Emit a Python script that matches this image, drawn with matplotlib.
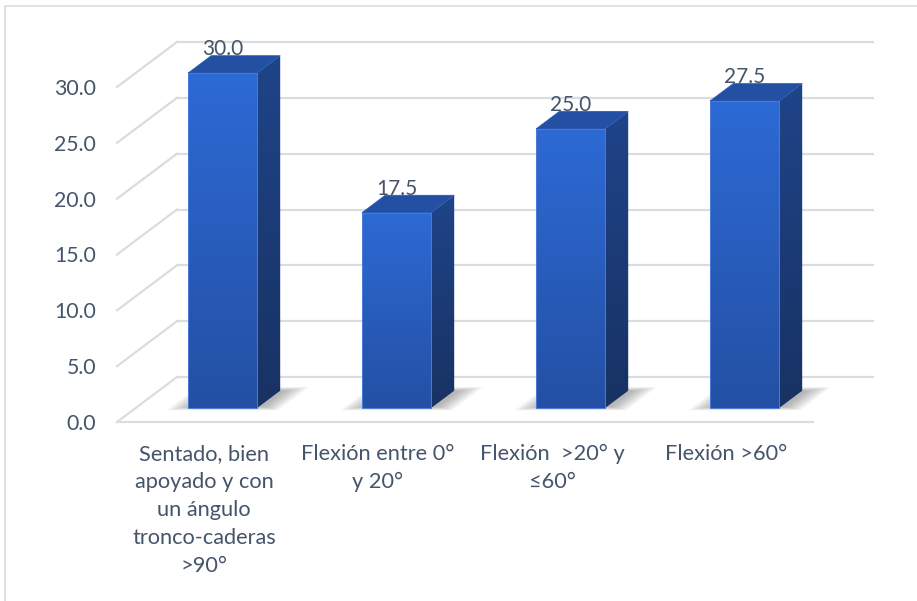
import matplotlib.pyplot as plt
import numpy as np
from matplotlib.patches import Polygon, Rectangle
from matplotlib.colors import LinearSegmentedColormap

categories = [
    "Sentado, bien\napoyado y con\nun ángulo\ntronco-caderas\n>90°",
    "Flexión entre 0°\ny 20°",
    "Flexión  >20° y\n≤60°",
    "Flexión >60°",
]
values = [30.0, 17.5, 25.0, 27.5]
yticks = [0, 5, 10, 15, 20, 25, 30]

plt.rcParams['font.family'] = ['Lato', 'DejaVu Sans']
TEXT = '#44546A'
GRID = '#D9DCE1'
FS = 15

W, H = 917, 601
fig = plt.figure(figsize=(W / 100, H / 100), dpi=100)
ax = fig.add_axes([117 / W, 179 / H, 696 / W, 335 / H])

# oblique depth: one unit of depth shifts 60px right and 45px up
DX = 60 / 174
DY = 45 / 335 * 30


def proj(x, v, d):
    return (x + DX * d, v + DY * d)


front_cmap = LinearSegmentedColormap.from_list('front', ['#2350A4', '#2D6AD5'])
side_cmap = LinearSegmentedColormap.from_list('side', ['#183263', '#1F4489'])
grad = np.linspace(0, 1, 256).reshape(-1, 1)

# walls and floor grid
for t in yticks:
    p0, p1 = proj(-0.5, t, 1), proj(3.5, t, 1)
    ax.plot([p0[0], p1[0]], [p0[1], p1[1]], color=GRID, lw=1.6, clip_on=False, zorder=1)
    q0 = proj(-0.5, t, 0)
    ax.plot([q0[0], p0[0]], [q0[1], p0[1]], color=GRID, lw=1.6, clip_on=False, zorder=1)
f0, f1 = proj(-0.5, 0, 0), proj(3.5, 0, 0)
ax.plot([f0[0], f1[0]], [f0[1], f1[1]], color=GRID, lw=1.6, clip_on=False, zorder=1)

BW = 69 / 174
D1, D2 = 0.31, 0.695

for i, v in enumerate(values):
    x0, x1 = i - BW / 2, i + BW / 2

    # soft floor shadow
    for k in range(10):
        e = 0.012 * k
        ed = 0.009 * k
        foot = [proj(x0 - e, 0, D1 + 0.03 - ed), proj(x1 + e + 0.03, 0, D1 + 0.03 - ed),
                proj(x1 + e + 0.03, 0, D2 + ed), proj(x0 - e, 0, D2 + ed)]
        ax.add_patch(Polygon(foot, closed=True, fc='#404040', ec='none', alpha=0.045,
                             clip_on=False, zorder=2))

    # side face with vertical gradient
    side = [proj(x1, 0, D1), proj(x1, 0, D2), proj(x1, v, D2), proj(x1, v, D1)]
    sx0, sy0 = proj(x1, 0, D1)
    sx1, sy1 = proj(x1, v, D2)
    im = ax.imshow(grad, extent=(sx0, sx1, sy0, sy1), origin='lower', aspect='auto',
                   cmap=side_cmap, interpolation='bilinear', zorder=3)
    im.set_clip_box(fig.bbox)
    im.set_clip_path(Polygon(side, closed=True, transform=ax.transData))

    # front face, lighter at the top
    fx0, fy0 = proj(x0, 0, D1)
    fx1, fy1 = proj(x1, v, D1)
    im = ax.imshow(grad, extent=(fx0, fx1, fy0, fy1), origin='lower', aspect='auto',
                   cmap=front_cmap, interpolation='bilinear', zorder=4)
    im.set_clip_box(fig.bbox)

    # top face
    top = [proj(x0, v, D1), proj(x1, v, D1), proj(x1, v, D2), proj(x0, v, D2)]
    ax.add_patch(Polygon(top, closed=True, fc='#2350A2', ec='#2A5BB5', lw=0.6,
                         clip_on=False, zorder=4))
    # thin light edge on the front
    ax.add_patch(Rectangle((fx0, fy0), fx1 - fx0, fy1 - fy0, fc='none', ec='#4A7BD8',
                           lw=0.7, clip_on=False, zorder=5))

    ly = proj(i, v, D2)[1]
    ax.text(i + DX * D1, ly + 0.05, f"{v:.1f}", ha='center', va='baseline',
            fontsize=FS, color=TEXT, clip_on=False, zorder=6)

ax.set_xlim(-0.5, 3.5)
ax.set_ylim(0, 30)
ax.set_yticks(yticks)
ax.set_yticklabels([f"{t:.1f}" for t in yticks])
ax.set_xticks(range(len(categories)))
ax.set_xticklabels(categories, linespacing=1.5)
ax.tick_params(axis='y', length=0, pad=15, labelsize=FS + 0.3, labelcolor=TEXT)
ax.tick_params(axis='x', length=0, pad=16, labelsize=FS + 0.7, labelcolor=TEXT)
for s in ax.spines.values():
    s.set_visible(False)
ax.patch.set_visible(False)

# chart area border
fig.add_artist(Rectangle((5 / W, -0.1), 1.2, (H - 6) / H + 0.1, transform=fig.transFigure,
                         fill=False, ec='#D9DDE3', lw=1.2))

fig.savefig('out.png', dpi=100)
